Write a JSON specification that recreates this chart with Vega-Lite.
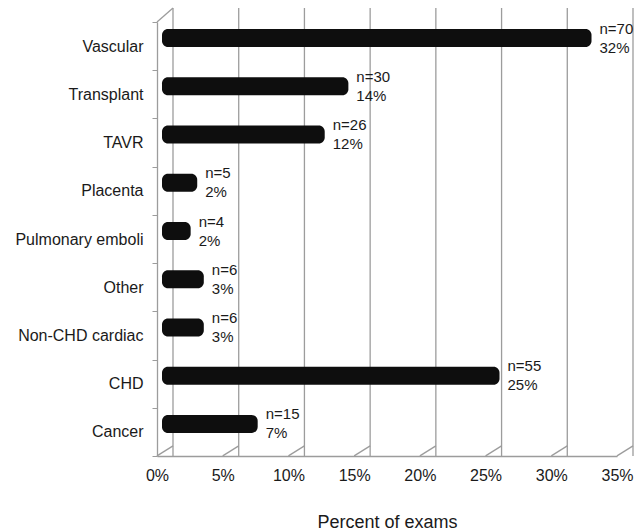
{
  "$schema": "https://vega.github.io/schema/vega-lite/v6.json",
  "width": 460,
  "height": 434,
  "autosize": "none",
  "padding": {"left": 157, "top": 22, "right": 17, "bottom": 74},
  "config": {"view": {"stroke": null}, "font": "Liberation Sans"},
  "datasets": {
    "exams": [
      {"category": "Vascular", "n": "n=70", "share": 0.323},
      {"category": "Transplant", "n": "n=30", "share": 0.138},
      {"category": "TAVR", "n": "n=26", "share": 0.12},
      {"category": "Placenta", "n": "n=5", "share": 0.023},
      {"category": "Pulmonary emboli", "n": "n=4", "share": 0.018},
      {"category": "Other", "n": "n=6", "share": 0.028},
      {"category": "Non-CHD cardiac", "n": "n=6", "share": 0.028},
      {"category": "CHD", "n": "n=55", "share": 0.253},
      {"category": "Cancer", "n": "n=15", "share": 0.069}
    ],
    "ticks": [
      {"t": 0}, {"t": 0.05}, {"t": 0.1}, {"t": 0.15}, {"t": 0.2}, {"t": 0.25}, {"t": 0.3}, {"t": 0.35}
    ],
    "corner": [{"t": 0}]
  },
  "layer": [
    {
      "data": {"name": "ticks"},
      "mark": {"type": "rule", "color": "#9c9c9c", "strokeWidth": 1.3, "xOffset": 16, "yOffset": -14, "y2Offset": -10},
      "encoding": {
        "x": {
          "field": "t", "type": "quantitative", "scale": {"domain": [0, 0.35], "nice": false},
          "axis": {
            "format": ".0%", "values": [0, 0.05, 0.1, 0.15, 0.2, 0.25, 0.3, 0.35],
            "grid": false, "labelFlush": false, "labelFontSize": 16, "labelColor": "#1a1a1a", "labelPadding": 11,
            "domainColor": "#9c9c9c", "domainWidth": 1.3, "ticks": false,
            "title": "Percent of exams", "titleFontSize": 18, "titleFontWeight": "normal",
            "titleColor": "#1a1a1a", "titlePadding": 30
          }
        }
      }
    },
    {
      "data": {"name": "ticks"},
      "mark": {"type": "rule", "color": "#9c9c9c", "strokeWidth": 1.3, "x2Offset": 16, "yOffset": 24, "y2Offset": 14},
      "encoding": {
        "x": {"field": "t", "type": "quantitative"},
        "x2": {"field": "t"},
        "y": {
          "datum": "Cancer", "type": "nominal",
          "scale": {"domain": ["Vascular", "Transplant", "TAVR", "Placenta", "Pulmonary emboli", "Other", "Non-CHD cardiac", "CHD", "Cancer"], "paddingInner": 0, "paddingOuter": 0}
        },
        "y2": {"datum": "Cancer"}
      }
    },
    {
      "data": {"name": "corner"},
      "mark": {"type": "rule", "color": "#9c9c9c", "strokeWidth": 1.3, "x2Offset": 16, "yOffset": -24, "y2Offset": -38},
      "encoding": {
        "x": {"field": "t", "type": "quantitative"},
        "x2": {"field": "t"},
        "y": {"datum": "Vascular", "type": "nominal"},
        "y2": {"datum": "Vascular"}
      }
    },
    {
      "data": {"name": "exams"},
      "mark": {"type": "bar", "color": "#0e0e0e", "size": 18, "cornerRadius": 6, "xOffset": 10, "x2Offset": 5, "yOffset": -8},
      "encoding": {
        "y": {
          "field": "category", "type": "nominal", "sort": null, "title": null,
          "axis": {
            "labelFontSize": 16, "labelColor": "#1a1a1a", "labelPadding": 9,
            "domainColor": "#9c9c9c", "domainWidth": 1.3, "tickColor": "#9c9c9c", "tickSize": 5,
            "tickBand": "extent", "labelLimit": 200
          }
        },
        "x": {"field": "share", "type": "quantitative", "stack": null},
        "x2": {"datum": 0}
      }
    },
    {
      "data": {"name": "exams"},
      "mark": {"type": "text", "align": "left", "baseline": "middle", "fontSize": 15, "color": "#1a1a1a", "dx": 18, "dy": -17.5},
      "encoding": {
        "y": {"field": "category", "type": "nominal", "sort": null},
        "x": {"field": "share", "type": "quantitative"},
        "text": {"field": "n"}
      }
    },
    {
      "data": {"name": "exams"},
      "mark": {"type": "text", "align": "left", "baseline": "middle", "fontSize": 15, "color": "#1a1a1a", "dx": 18, "dy": 1.5},
      "encoding": {
        "y": {"field": "category", "type": "nominal", "sort": null},
        "x": {"field": "share", "type": "quantitative"},
        "text": {"field": "share", "format": ".0%"}
      }
    }
  ]
}
